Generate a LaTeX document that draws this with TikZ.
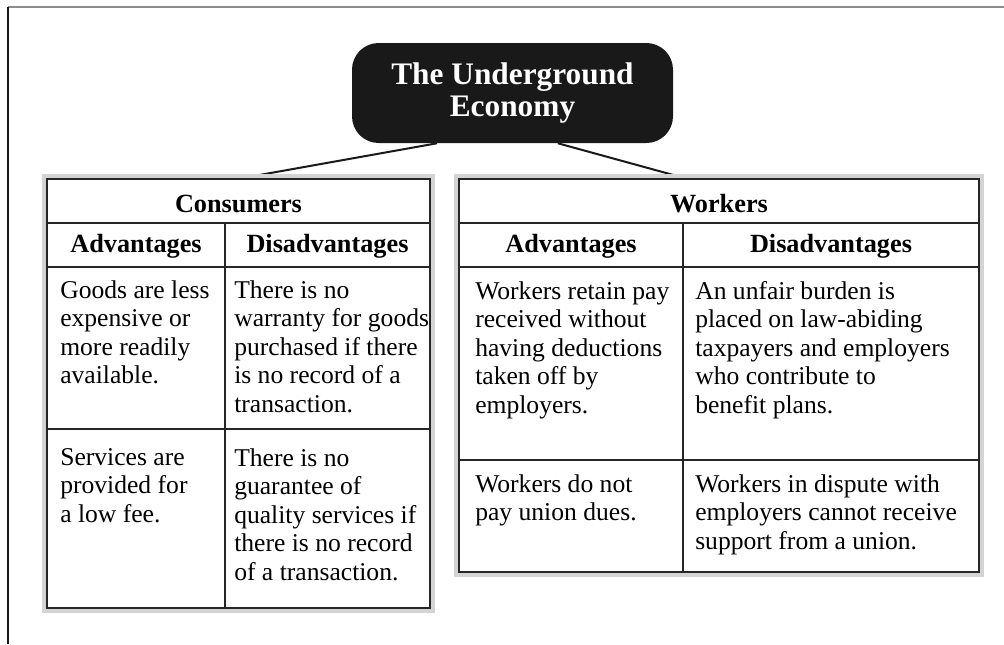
\documentclass[tikz,border=0pt]{standalone}
\usepackage{fontspec}
\setmainfont{Liberation Serif}
\begin{document}
\begin{tikzpicture}[x=0.75pt, y=-0.75pt,
    halo/.style={fill=black!17},
    tabframe/.style={draw=black!85, line width=1.7pt, fill=white},
    rule/.style={draw=black!85, line width=1.5pt},
    colrule/.style={draw=black!85, line width=1.1pt},
    link/.style={draw=black!90, line width=1.5pt},
    titlebox/.style={fill=black!90, rounded corners=20pt, minimum width=240.75pt,
        minimum height=75pt, text=white, align=center,
        font=\fontsize{23.5pt}{24pt}\selectfont\bfseries},
    head/.style={anchor=base, inner sep=0pt, font=\fontsize{19.7pt}{21.4pt}\selectfont\bfseries},
    cell/.style={anchor=north west, inner sep=0pt, align=left,
        font=\fontsize{19.2pt}{21.4pt}\selectfont}]
        \useasboundingbox (0,0) rectangle (1004,644);

        % Khung
        \draw[black!45, line width=1.5pt] (8,7) -- (1004,7);
        \draw[black!90, line width=1.1pt] (8,7) -- (8,644);

        % Tieu de
        \node[titlebox] (econ) at (512.5,93) {The Underground\\Economy};
        \coordinate (cons top) at (237,179);
        \coordinate (work top) at (688,179);
        \draw[link] ([xshift=-56.6pt]econ.south) -- (cons top);
        \draw[link] ([xshift=34pt]econ.south) -- (work top);

        % Bang Consumers
        \fill[halo] (42,174) rectangle (435,613);
        \draw[tabframe] (47,179) rectangle (430,608);
        \draw[rule] (47,223) -- (430,223);
        \draw[rule] (47,267) -- (430,267);
        \draw[rule] (47,429) -- (430,429);
        \draw[colrule] (225,223) -- (225,608);
        \node[head] (cons) at (238.5,212) {Consumers};
        \node[head] (cons adv) at (136,252) {Advantages};
        \node[head] (cons dis) at (327.5,252) {Disadvantages};
        \node[cell] (cons a1) at (60,280) {Goods are less\\expensive or\\more readily\\available.};
        \node[cell] (cons d1) at (234,280) {There is no\\warranty for goods\\purchased if there\\is no record of a\\transaction.};
        \node[cell] (cons a2) at (60,448) {Services are\\provided for\\a low fee.};
        \node[cell] (cons d2) at (234,448) {There is no\\guarantee of\\quality services if\\there is no record\\of a transaction.};

        % Bang Workers
        \fill[halo] (454,174) rectangle (984,577);
        \draw[tabframe] (459,179) rectangle (979,572);
        \draw[rule] (459,223) -- (979,223);
        \draw[rule] (459,267) -- (979,267);
        \draw[rule] (459,460) -- (979,460);
        \draw[colrule] (683,223) -- (683,572);
        \node[head] (work) at (719,212) {Workers};
        \node[head] (work adv) at (571,252) {Advantages};
        \node[head] (work dis) at (831,252) {Disadvantages};
        \node[cell] (work a1) at (475,281) {Workers retain pay\\received without\\having deductions\\taken off by\\employers.};
        \node[cell] (work d1) at (695,281) {An unfair burden is\\placed on law-abiding\\taxpayers and employers\\who contribute to\\benefit plans.};
        \node[cell] (work a2) at (475,474) {Workers do not\\pay union dues.};
        \node[cell] (work d2) at (695,474) {Workers in dispute with\\employers cannot receive\\support from a union.};
    \end{tikzpicture}
\end{document}
